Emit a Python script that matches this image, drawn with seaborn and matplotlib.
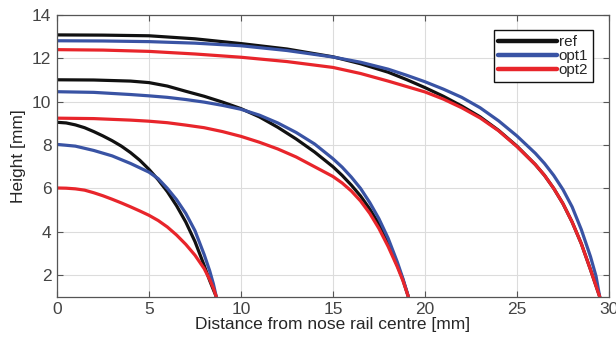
import matplotlib
matplotlib.use("Agg")
import matplotlib.pyplot as plt
from matplotlib.lines import Line2D
import seaborn as sns
import pandas as pd

# ---- data ----
profiles = ["ref", "opt1", "opt2"]
colors = ["#111111", "#3953A4", "#E8252B"]

# section 1 (ends near 8.7 mm)
s1_ref_x = [0, 0.5, 1, 1.5, 2, 2.5, 3, 3.5, 4, 4.5, 5, 5.5, 6, 6.5, 7, 7.5, 8, 8.3, 8.5, 8.66]
s1_ref_y = [9.05, 9.02, 8.93, 8.8, 8.62, 8.42, 8.2, 7.95, 7.65, 7.3, 6.88, 6.4, 5.85, 5.2, 4.45, 3.55, 2.45, 1.75, 1.33, 1.0]
s1_opt1_x = [0, 1, 2, 3, 4, 5, 5.5, 6, 6.5, 7, 7.5, 8, 8.3, 8.5, 8.66]
s1_opt1_y = [8.03, 7.95, 7.75, 7.5, 7.15, 6.75, 6.45, 6.0, 5.48, 4.85, 4.05, 2.95, 2.2, 1.6, 1.0]
s1_opt2_x = [0, 0.5, 1, 1.5, 2, 2.5, 3, 3.5, 4, 4.5, 5, 5.5, 6, 6.5, 7, 7.5, 8, 8.3, 8.5, 8.66]
s1_opt2_y = [6.02, 6.01, 5.98, 5.92, 5.8, 5.66, 5.5, 5.33, 5.15, 4.96, 4.76, 4.52, 4.22, 3.85, 3.42, 2.92, 2.3, 1.8, 1.4, 1.0]

# section 2 (ends near 19.1 mm)
s2_ref_x = [0, 2, 4, 5, 6, 7, 8, 9, 10, 11, 12, 13, 14, 15, 15.5, 16, 16.5, 17, 17.5, 18, 18.5, 18.8, 19.1]
s2_ref_y = [11.01, 11.0, 10.95, 10.88, 10.72, 10.48, 10.25, 9.98, 9.68, 9.3, 8.82, 8.28, 7.68, 7.0, 6.6, 6.15, 5.65, 5.05, 4.35, 3.45, 2.45, 1.8, 1.0]
s2_opt1_x = [0, 2, 4, 5, 6, 7, 8, 9, 10, 11, 12, 13, 14, 15, 15.5, 16, 16.5, 17, 17.5, 18, 18.5, 18.8, 19.1]
s2_opt1_y = [10.46, 10.43, 10.33, 10.27, 10.2, 10.1, 9.98, 9.83, 9.65, 9.38, 9.02, 8.58, 8.05, 7.37, 6.98, 6.52, 6.0, 5.35, 4.6, 3.7, 2.6, 1.85, 1.0]
s2_opt2_x = [0, 2, 4, 5, 6, 7, 8, 9, 10, 11, 12, 13, 14, 15, 15.5, 16, 16.5, 17, 17.5, 18, 18.5, 18.8, 19.1]
s2_opt2_y = [9.24, 9.22, 9.15, 9.1, 9.03, 8.92, 8.8, 8.62, 8.4, 8.13, 7.82, 7.45, 7.0, 6.55, 6.25, 5.88, 5.42, 4.85, 4.15, 3.32, 2.38, 1.75, 1.0]

# section 3 (ends near 29.5 mm)
s3_ref_x = [0, 2.5, 5, 7.5, 10, 12.5, 15, 16.5, 18, 19, 20, 21, 22, 23, 24, 25, 26, 26.5, 27, 27.5, 28, 28.5, 29, 29.3, 29.5]
s3_ref_y = [13.08, 13.07, 13.04, 12.9, 12.68, 12.43, 12.07, 11.75, 11.36, 11.02, 10.65, 10.25, 9.8, 9.3, 8.68, 7.95, 7.1, 6.6, 6.0, 5.3, 4.45, 3.45, 2.25, 1.5, 1.0]
s3_opt1_x = [0, 2.5, 5, 7.5, 10, 12.5, 15, 16.5, 18, 19, 20, 21, 22, 23, 24, 25, 26, 26.5, 27, 27.5, 28, 28.5, 29, 29.3, 29.5]
s3_opt1_y = [12.81, 12.8, 12.77, 12.7, 12.58, 12.36, 12.06, 11.82, 11.5, 11.22, 10.92, 10.58, 10.2, 9.72, 9.12, 8.42, 7.62, 7.15, 6.6, 5.95, 5.15, 4.1, 2.85, 1.95, 1.0]
s3_opt2_x = [0, 2.5, 5, 7.5, 10, 12.5, 15, 16.5, 18, 19, 20, 21, 22, 23, 24, 25, 26, 26.5, 27, 27.5, 28, 28.5, 29, 29.3, 29.5]
s3_opt2_y = [12.4, 12.38, 12.32, 12.2, 12.05, 11.85, 11.58, 11.3, 10.95, 10.7, 10.45, 10.12, 9.72, 9.25, 8.66, 7.93, 7.1, 6.6, 6.0, 5.3, 4.45, 3.45, 2.25, 1.5, 1.0]

x_ticks = [0, 5, 10, 15, 20, 25, 30]
y_ticks = [2, 4, 6, 8, 10, 12, 14]

series = [
    ("ref", 1, s1_ref_x, s1_ref_y), ("opt1", 1, s1_opt1_x, s1_opt1_y), ("opt2", 1, s1_opt2_x, s1_opt2_y),
    ("ref", 2, s2_ref_x, s2_ref_y), ("opt1", 2, s2_opt1_x, s2_opt1_y), ("opt2", 2, s2_opt2_x, s2_opt2_y),
    ("ref", 3, s3_ref_x, s3_ref_y), ("opt1", 3, s3_opt1_x, s3_opt1_y), ("opt2", 3, s3_opt2_x, s3_opt2_y),
]
rows = []
for name, sec, xs, ys in series:
    for xv, yv in zip(xs, ys):
        rows.append({"x": xv, "y": yv, "profile": name, "section": sec})
df = pd.DataFrame(rows)

# ---- styling ----
sns.set_theme(style="whitegrid")
plt.rcParams["font.family"] = ["Liberation Sans", "DejaVu Sans"]
axc = "#262626"

fig = plt.figure(figsize=(6.16, 3.4), dpi=100)
ax = fig.add_axes([0.0925, 0.127, 0.896, 0.829])

sns.lineplot(data=df, x="x", y="y", hue="profile", hue_order=profiles,
             palette=colors, units="section", estimator=None, sort=False,
             linewidth=2.3, ax=ax, legend=False)

ax.set_xlim(0, 30)
ax.set_ylim(1, 14)
ax.set_xticks(x_ticks)
ax.set_yticks(y_ticks)
ax.grid(True, color="#dcdcdc", linewidth=0.8)
ax.set_facecolor("white")
for s in ax.spines.values():
    s.set_color("#555555")
    s.set_linewidth(0.9)
ax.tick_params(direction="in", length=4, width=0.8, color="#555555",
               labelsize=12.5, labelcolor="#444444", top=True, right=True,
               left=True, bottom=True, pad=4)
ax.set_xlabel("Distance from nose rail centre [mm]", fontsize=12.5, color=axc, labelpad=0)
ax.set_ylabel("Height [mm]", fontsize=12.5, color=axc, labelpad=4)

handles = [Line2D([0], [0], color=c, linewidth=3.2) for c in colors]
leg = ax.legend(handles, profiles, loc="upper right", bbox_to_anchor=(0.971, 0.945),
                fontsize=11, handlelength=3.8, handletextpad=0.15, labelspacing=0.0,
                borderpad=0.3, borderaxespad=0, fancybox=False, framealpha=1)
leg.get_frame().set_edgecolor("#111111")
leg.get_frame().set_linewidth(1.0)

fig.savefig("out.png", dpi=100)
